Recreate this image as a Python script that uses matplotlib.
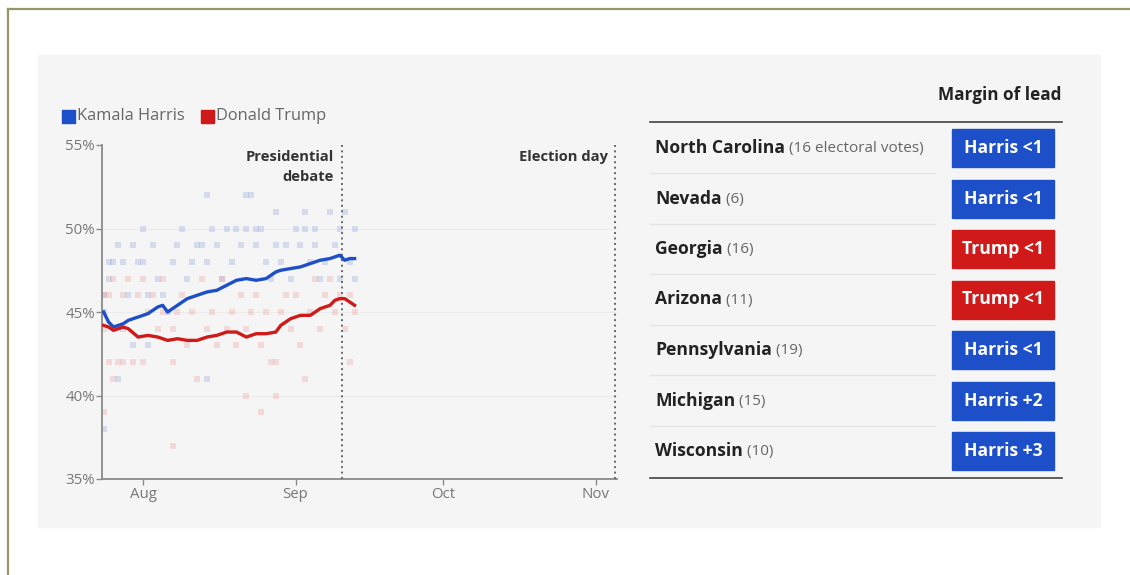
import datetime as dt
import matplotlib
matplotlib.use("Agg")
import matplotlib.pyplot as plt
import matplotlib.dates as mdates
from matplotlib.patches import Rectangle
from matplotlib.lines import Line2D

plt.rcParams['font.family'] = ['Open Sans', 'DejaVu Sans']

# polling averages (date, %)
avg_dates = ['07-24', '07-25', '07-26', '07-28', '07-29', '07-31', '08-02', '08-04', '08-05',
             '08-06', '08-08', '08-10', '08-12', '08-14', '08-16', '08-18', '08-20', '08-22',
             '08-24', '08-26', '08-28', '08-29', '08-31', '09-02', '09-04', '09-06', '09-08',
             '09-09', '09-10', '09-11', '09-12', '09-13']
harris_avg = [45.0, 44.4, 44.1, 44.3, 44.5, 44.7, 44.9, 45.3, 45.4,
              45.0, 45.4, 45.8, 46.0, 46.2, 46.3, 46.6, 46.9, 47.0,
              46.9, 47.0, 47.4, 47.5, 47.6, 47.7, 47.9, 48.1, 48.2,
              48.3, 48.4, 48.1, 48.2, 48.2]
trump_avg = [44.2, 44.1, 43.9, 44.1, 44.0, 43.5, 43.6, 43.5, 43.4,
             43.3, 43.4, 43.3, 43.3, 43.5, 43.6, 43.8, 43.8, 43.5,
             43.7, 43.7, 43.8, 44.2, 44.6, 44.8, 44.8, 45.2, 45.4,
             45.7, 45.8, 45.8, 45.6, 45.4]

# individual polls
harris_poll_dates = ['07-24', '07-24', '07-25', '07-25', '07-26', '07-27', '07-28', '07-28',
                     '07-29', '07-30', '07-30', '07-31', '08-01', '08-01', '08-02', '08-02',
                     '08-03', '08-04', '08-05', '08-06', '08-07', '08-08', '08-09', '08-10',
                     '08-11', '08-12', '08-13', '08-14', '08-14', '08-15', '08-16', '08-17',
                     '08-18', '08-19', '08-20', '08-21', '08-22', '08-22', '08-23', '08-24',
                     '08-24', '08-25', '08-26', '08-27', '08-28', '08-28', '08-29', '08-30',
                     '08-31', '09-01', '09-02', '09-03', '09-03', '09-04', '09-05', '09-05',
                     '09-06', '09-07', '09-08', '09-09', '09-10', '09-10', '09-11', '09-12',
                     '09-13', '09-13', '07-24', '07-27', '08-14']
harris_poll = [45, 46, 48, 47, 48, 49, 48, 44,
               46, 49, 43, 48, 50, 48, 46, 43,
               49, 47, 46, 45, 48, 49, 50, 47,
               48, 49, 49, 52, 48, 50, 49, 47,
               50, 48, 50, 49, 52, 50, 52, 50,
               49, 50, 48, 47, 51, 49, 48, 49,
               47, 50, 49, 51, 50, 48, 50, 49,
               47, 48, 51, 49, 50, 47, 51, 48,
               50, 47, 38, 41, 41]
trump_poll_dates = ['07-24', '07-24', '07-25', '07-25', '07-26', '07-27', '07-28', '07-28',
                    '07-29', '07-30', '07-31', '08-01', '08-01', '08-02', '08-03', '08-04',
                    '08-05', '08-05', '08-07', '08-07', '08-08', '08-09', '08-10', '08-11',
                    '08-12', '08-13', '08-14', '08-15', '08-16', '08-17', '08-18', '08-19',
                    '08-20', '08-21', '08-22', '08-22', '08-23', '08-24', '08-25', '08-25',
                    '08-26', '08-27', '08-28', '08-28', '08-29', '08-30', '08-31', '09-01',
                    '09-02', '09-03', '09-04', '09-05', '09-06', '09-07', '09-08', '09-09',
                    '09-10', '09-11', '09-12', '09-12', '09-13', '07-24', '08-07', '07-26']
trump_poll = [46, 44, 46, 42, 47, 42, 46, 42,
              47, 42, 46, 42, 47, 45, 46, 44,
              45, 47, 42, 44, 45, 46, 43, 45,
              41, 47, 44, 45, 43, 47, 44, 45,
              43, 46, 44, 40, 45, 46, 43, 39,
              45, 42, 40, 42, 45, 46, 44, 46,
              43, 41, 45, 47, 44, 46, 47, 45,
              46, 44, 42, 46, 45, 39, 37, 41]

states = ['North Carolina', 'Nevada', 'Georgia', 'Arizona', 'Pennsylvania', 'Michigan', 'Wisconsin']
votes = ['(16 electoral votes)', '(6)', '(16)', '(11)', '(19)', '(15)', '(10)']
leader = ['Harris', 'Harris', 'Trump', 'Trump', 'Harris', 'Harris', 'Harris']
margin = ['<1', '<1', '<1', '<1', '<1', '+2', '+3']

BLUE = '#1c4fc8'
RED = '#d01a1a'


def to_dates(lst):
    return [dt.datetime.strptime('2024-' + d, '%Y-%m-%d') for d in lst]


fig = plt.figure(figsize=(11.3, 5.75), dpi=100)
fig.patch.set_facecolor('white')

# background overlay in pixel coords
bg = fig.add_axes([0, 0, 1, 1])
bg.set_xlim(0, 1130)
bg.set_ylim(575, 0)
bg.axis('off')
bg.add_patch(Rectangle((38, 55), 1062, 472, color='#f5f5f5', zorder=0))
bg.add_line(Line2D([8, 8], [9, 575], color='#9a9468', lw=1.6))
bg.add_line(Line2D([8, 1130], [9, 9], color='#9a9468', lw=1.6))

# legend
bg.add_patch(Rectangle((62, 110), 13, 13, color=BLUE))
bg.text(77, 116.5, 'Kamala Harris', fontsize=11.8, color='#666666', va='center')
bg.add_patch(Rectangle((201, 110), 13, 13, color=RED))
bg.text(216, 116.5, 'Donald Trump', fontsize=11.8, color='#666666', va='center')

# chart
ax = fig.add_axes([102 / 1130, 1 - 479 / 575, 515 / 1130, 334 / 575])
ax.set_facecolor('none')
ax.scatter(to_dates(harris_poll_dates), harris_poll, s=16, marker='s', color='#8aa0dd',
           alpha=0.3, lw=0, zorder=2)
ax.scatter(to_dates(trump_poll_dates), trump_poll, s=16, marker='s', color='#ee9a9a',
           alpha=0.3, lw=0, zorder=2)
ax.plot(to_dates(avg_dates), harris_avg, color=BLUE, lw=2.4, zorder=4)
ax.plot(to_dates(avg_dates), trump_avg, color=RED, lw=2.4, zorder=4)

ax.set_ylim(35, 55)
ax.set_xlim(dt.datetime(2024, 7, 23, 16), dt.datetime(2024, 11, 5, 8))
ax.set_yticks([35, 40, 45, 50, 55])
ax.set_yticklabels(['35%', '40%', '45%', '50%', '55%'])
ax.xaxis.set_major_locator(mdates.MonthLocator())
ax.xaxis.set_major_formatter(mdates.DateFormatter('%b'))
for v in [40, 45, 50]:
    ax.axhline(v, color='#ebebeb', lw=0.8, zorder=1)
for s in ['top', 'right']:
    ax.spines[s].set_visible(False)
for s in ['left', 'bottom']:
    ax.spines[s].set_color('#8a8a8a')
    ax.spines[s].set_linewidth(1.3)
ax.tick_params(axis='both', colors='#8a8a8a', labelcolor='#777777', labelsize=10.8,
               length=4, width=1)
ax.tick_params(axis='y', pad=1)
ax.tick_params(axis='x', pad=2)

debate = dt.datetime(2024, 9, 10, 10)
election = dt.datetime(2024, 11, 5)
for d in [debate, election]:
    ax.axvline(d, color='#666666', lw=1.4, ls=(0, (1, 1.8)), zorder=3)
ax.text(dt.datetime(2024, 9, 8, 18), 54.7, 'Presidential\ndebate', ha='right', va='top',
        fontsize=10.6, fontweight='bold', color='#333333', linespacing=1.5)
ax.text(dt.datetime(2024, 11, 3, 14), 54.7, 'Election day', ha='right', va='top',
        fontsize=10.6, fontweight='bold', color='#333333')

# table of states
bg.text(1062, 95, 'Margin of lead', ha='right', va='center', fontsize=12.3,
        fontweight='bold', color='#222222')
bg.add_line(Line2D([650, 1062], [122, 122], color='#444444', lw=1.2))
bg.add_line(Line2D([650, 1062], [478, 478], color='#444444', lw=1.2))
row_h = 50.5
for i, (st, vt, ld, mg) in enumerate(zip(states, votes, leader, margin)):
    yc = 148 + i * row_h
    t = bg.text(655, yc, st, ha='left', va='center', fontsize=12.6, fontweight='bold',
                color='#222222')
    bg.annotate(' ' + vt, xy=(1, 0.47), xycoords=t, va='center', ha='left',
                fontsize=11.0, color='#666666')
    col = BLUE if ld == 'Harris' else RED
    bg.add_patch(Rectangle((952, yc - 19), 102, 38, color=col))
    bg.text(1003, yc, ld + ' ' + mg, ha='center', va='center', fontsize=12.6,
            fontweight='bold', color='white')
    if i < len(states) - 1:
        bg.add_line(Line2D([650, 935], [yc + row_h / 2, yc + row_h / 2],
                           color='#e4e4e4', lw=1))

fig.savefig('out.png', dpi=100)
